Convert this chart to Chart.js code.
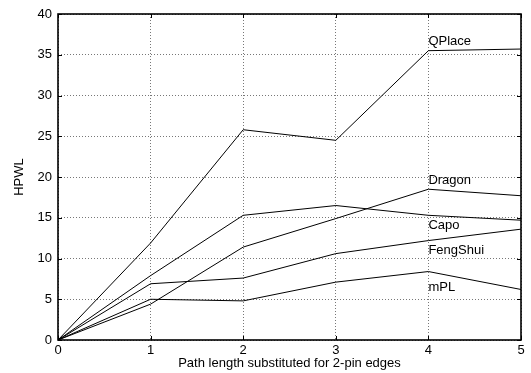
<!DOCTYPE html>
<html>
<head>
<meta charset="utf-8">
<script src="https://cdn.jsdelivr.net/npm/chart.js@4/dist/chart.umd.min.js"></script>
<style>
html,body{margin:0;padding:0;background:#fff;}
#wrap{width:531px;height:373px;position:relative;}
</style>
</head>
<body>
<div id="wrap"><canvas id="c" width="531" height="373"></canvas></div>
<script>
const pathLengths = [0, 1, 2, 3, 4, 5];
const seriesNames = ["QPlace", "Dragon", "Capo", "FengShui", "mPL"];
const qplace   = [0, 11.9, 25.8, 24.5, 35.5, 35.7];
const dragon   = [0, 4.4, 11.4, 14.9, 18.5, 17.7];
const capo     = [0, 7.9, 15.3, 16.5, 15.3, 14.7];
const fengshui = [0, 6.9, 7.6, 10.6, 12.2, 13.6];
const mpl      = [0, 5.0, 4.8, 7.1, 8.4, 6.2];
const labelX = 4;
const labelY = [36.6, 19.6, 14.1, 11.0, 6.5];
const xTicks = [0, 1, 2, 3, 4, 5];
const yTicks = [0, 5, 10, 15, 20, 25, 30, 35, 40];

const allSeries = [qplace, dragon, capo, fengshui, mpl];
const FONT = "'Liberation Sans', Arial, Helvetica, sans-serif";

const datasets = allSeries.map((vals, i) => ({
  label: seriesNames[i],
  data: vals.map((v, j) => ({x: pathLengths[j], y: v})),
  borderColor: '#000',
  borderWidth: 1,
  pointRadius: 0,
  fill: false,
  tension: 0
}));

const framePlugin = {
  id: 'frame',
  afterDatasetsDraw(chart) {
    const {ctx, chartArea: a, scales} = chart;
    ctx.save();
    // inward tick marks
    ctx.strokeStyle = '#000';
    ctx.lineWidth = 1;
    ctx.beginPath();
    xTicks.forEach(t => {
      const px = Math.round(scales.x.getPixelForValue(t)) + 0.5;
      ctx.moveTo(px, a.bottom); ctx.lineTo(px, a.bottom - 4);
      ctx.moveTo(px, a.top); ctx.lineTo(px, a.top + 4);
    });
    yTicks.forEach(t => {
      const py = Math.round(scales.y.getPixelForValue(t)) + 0.5;
      ctx.moveTo(a.left, py); ctx.lineTo(a.left + 4, py);
      ctx.moveTo(a.right, py); ctx.lineTo(a.right - 4, py);
    });
    ctx.stroke();
    // frame
    ctx.lineWidth = 1.6;
    ctx.strokeRect(a.left, a.top, a.right - a.left, a.bottom - a.top);
    // series labels
    ctx.fillStyle = '#000';
    ctx.font = '13px ' + FONT;
    ctx.textAlign = 'left';
    ctx.textBaseline = 'middle';
    seriesNames.forEach((n, i) => {
      ctx.fillText(n, scales.x.getPixelForValue(labelX), scales.y.getPixelForValue(labelY[i]));
    });
    ctx.restore();
  }
};

new Chart(document.getElementById('c'), {
  type: 'line',
  data: {datasets},
  options: {
    responsive: false,
    animation: false,
    devicePixelRatio: 1,
    layout: {padding: {left: 0, right: 10, top: 14, bottom: 0}},
    plugins: {legend: {display: false}, tooltip: {enabled: false}},
    scales: {
      x: {
        type: 'linear',
        min: 0, max: 5,
        afterBuildTicks(s) { s.ticks = xTicks.map(v => ({value: v})); },
        afterFit(s) { s.height = 33; },
        grid: {color: '#777', lineWidth: 1, drawTicks: false},
        border: {display: false, dash: [1, 2]},
        ticks: {color: '#000', padding: 3, font: {family: FONT, size: 13}, maxRotation: 0},
        title: {display: true, text: 'Path length substituted for 2-pin edges', color: '#000',
                font: {family: FONT, size: 13, lineHeight: 1.2}, padding: {top: 0, bottom: 2}}
      },
      y: {
        type: 'linear',
        min: 0, max: 40,
        afterBuildTicks(s) { s.ticks = yTicks.map(v => ({value: v})); },
        afterFit(s) { s.width = 58; },
        grid: {color: '#777', lineWidth: 1, drawTicks: false},
        border: {display: false, dash: [1, 2]},
        ticks: {color: '#000', padding: 6, font: {family: FONT, size: 13}},
        title: {display: true, text: 'HPWL', color: '#000',
                font: {family: FONT, size: 13, lineHeight: 1.2}, padding: {top: 12, bottom: 0}}
      }
    }
  },
  plugins: [framePlugin]
});
</script>
</body>
</html>
